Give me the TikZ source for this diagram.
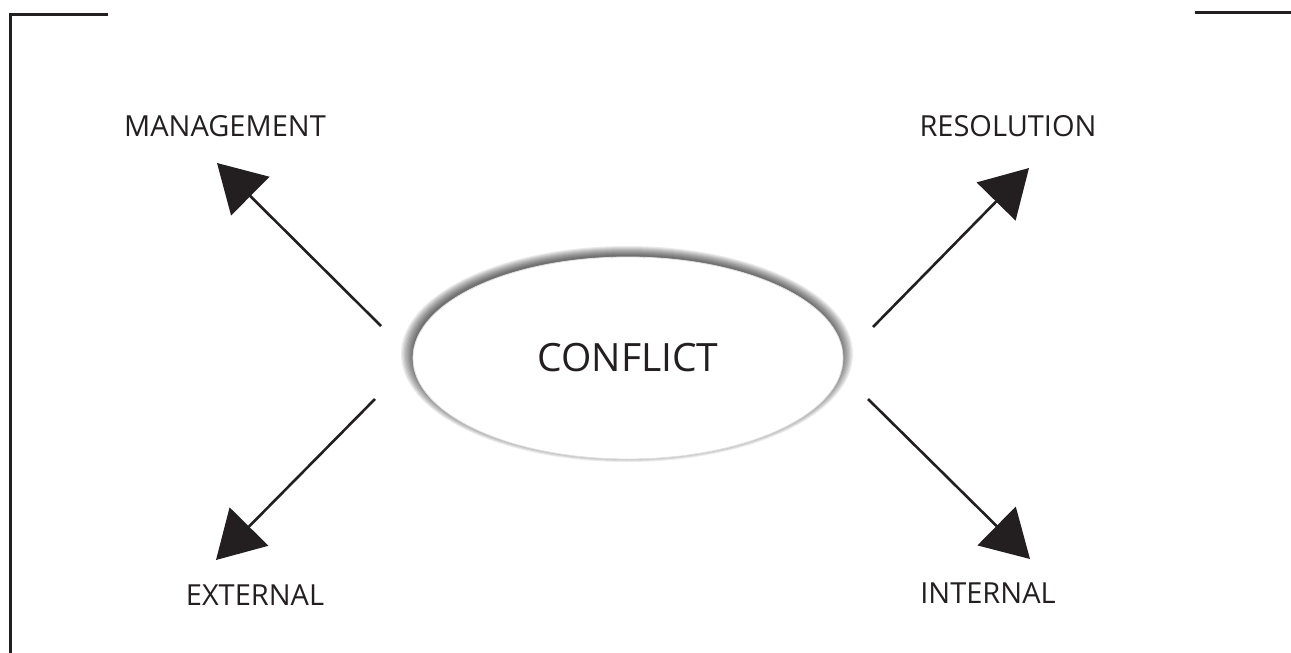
\documentclass[tikz,border=0pt]{standalone}
\usepackage{fontspec}
\setmainfont{Open Sans}
\usetikzlibrary{arrows.meta,shapes.geometric}
\definecolor{ink}{RGB}{35,31,32}
\begin{document}
\begin{tikzpicture}[x=1pt,y=-1pt,
  lbl/.style={anchor=base,text=ink,font=\fontsize{29}{34}\selectfont},
  pfeil/.style={draw=ink,line width=2.6pt,-{Triangle[length=47pt,width=54pt]}}]
\pgfmathsetmacro{\cx}{628};
\pgfmathsetmacro{\cy}{358};
\useasboundingbox (0,0) rectangle (1291,653);
\begin{scope}
\draw[ink,line width=3pt] (108,14)--(10,14)--(10,653);
\draw[ink,line width=3pt] (1195,12.5)--(1291,12.5);
\end{scope}
% soft shadow round the ellipse
\foreach \i in {1,...,10}
  \node[ellipse,fill=black,opacity=0.08,inner sep=0pt,
    minimum width={(426+2.6*\i)*1pt},minimum height={(196+2*\i)*1pt}] at (\cx-1,\cy-4) {};
\node[ellipse,fill=white,draw=black!12,line width=0.8pt,inner sep=0pt,
  minimum width=430pt,minimum height=202pt,text=ink,
  font=\fontsize{39}{45}\selectfont] (cf) at (\cx,\cy) {CONFLICT};
\node[lbl] (mg) at (225,136) {MANAGEMENT};
\node[lbl] (rs) at (1008,136) {RESOLUTION};
\node[lbl] (ex) at (255,605) {EXTERNAL};
\node[lbl] (it) at (988,603) {INTERNAL};
\coordinate (m0) at (381,326); \coordinate (m1) at (217,163);
\coordinate (r0) at (873,327); \coordinate (r1) at (1029,168);
\coordinate (e0) at (375,399); \coordinate (e1) at (216,560);
\coordinate (i0) at (868,399); \coordinate (i1) at (1030,559);
\draw[pfeil] (m0)--(m1);
\draw[pfeil] (r0)--(r1);
\draw[pfeil] (e0)--(e1);
\draw[pfeil] (i0)--(i1);
\end{tikzpicture}
\end{document}
